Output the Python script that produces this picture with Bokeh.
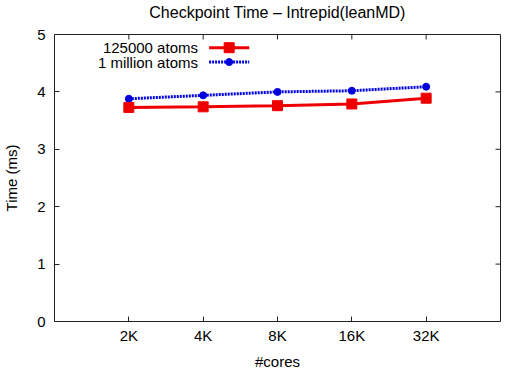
from bokeh.plotting import figure
from bokeh.models import Range1d, FixedTicker, Label, ColumnDataSource, LinearAxis
from bokeh.embed import file_html
from bokeh.resources import INLINE

TITLE = "Checkpoint Time \u2013 Intrepid(leanMD)"
categories = ["2K", "4K", "8K", "16K", "32K"]
atoms_125k = [3.73, 3.74, 3.76, 3.79, 3.89]
atoms_1m = [3.88, 3.94, 4.00, 4.02, 4.09]
y_ticks = [0, 1, 2, 3, 4, 5]

FONT = "Liberation Sans"
FS = "15px"
xpos = list(range(1, len(categories) + 1))

W, H = 510, 374
BL, BR, BT, BB = 54, 10, 34, 53
X0, X1, Y0, Y1 = 0, 6, 0, 5
FW, FH = W - BL - BR, H - BT - BB

p = figure(width=W, height=H, output_backend="svg", toolbar_location=None,
           x_range=Range1d(X0, X1), y_range=Range1d(Y0, Y1),
           min_border_left=BL, min_border_right=BR, min_border_top=BT, min_border_bottom=BB)
p.title = None
p.xgrid.visible = False
p.ygrid.visible = False
p.outline_line_color = "#222222"
p.outline_line_width = 1

xax = p.below[0]
yax = p.left[0]
xax.ticker = FixedTicker(ticks=xpos)
xax.major_label_overrides = {x: c for x, c in zip(xpos, categories)}
yax.ticker = FixedTicker(ticks=y_ticks)
xax.axis_label = "#cores"
yax.axis_label = "Time (ms)"
for ax in (xax, yax):
    ax.axis_line_color = None
    ax.major_tick_in = 5
    ax.major_tick_out = 0
    ax.minor_tick_line_color = None
    ax.major_tick_line_color = "#222222"
    ax.major_label_text_font = FONT
    ax.major_label_text_font_size = FS
    ax.major_label_text_color = "#000000"
    ax.axis_label_text_font = FONT
    ax.axis_label_text_font_size = FS
    ax.axis_label_text_font_style = "normal"
    ax.axis_label_text_color = "#000000"
xax.major_label_standoff = 5
xax.axis_label_standoff = 6
yax.major_label_standoff = 9
yax.axis_label_standoff = 14

# title carried by a tick-less top axis
top = LinearAxis(ticker=FixedTicker(ticks=[]), axis_line_color=None,
                 major_tick_line_color=None, minor_tick_line_color=None,
                 axis_label=TITLE, axis_label_standoff=14,
                 axis_label_text_font=FONT, axis_label_text_font_size="16px",
                 axis_label_text_font_style="normal", axis_label_text_color="#000000")
p.add_layout(top, "above")

# mirrored inward ticks on top and right (gnuplot style)
dy = 5 * (Y1 - Y0) / FH
dx = 5 * (X1 - X0) / FW
p.segment(x0=xpos, y0=[Y1] * len(xpos), x1=xpos, y1=[Y1 - dy] * len(xpos),
          line_color="#222222", line_width=1)
p.segment(x0=[X1] * len(y_ticks), y0=y_ticks, x1=[X1 - dx] * len(y_ticks), y1=y_ticks,
          line_color="#222222", line_width=1)

src = ColumnDataSource(dict(x=xpos, a=atoms_125k, b=atoms_1m))
p.line("x", "b", source=src, line_color="#0000dd", line_width=3, line_dash="2 1")
p.scatter("x", "b", source=src, marker="circle", size=7, fill_color="#0000dd", line_color="#0000dd")
p.line("x", "a", source=src, line_color="#ee0000", line_width=3)
p.scatter("x", "a", source=src, marker="square", size=10, fill_color="#ee0000", line_color="#ee0000")

# legend (gnuplot-style: text then sample)
ly = [4.77, 4.52]
p.line([2.08, 2.62], [ly[0], ly[0]], line_color="#ee0000", line_width=3)
p.scatter([2.35], [ly[0]], marker="square", size=10, fill_color="#ee0000", line_color="#ee0000")
p.line([2.08, 2.62], [ly[1], ly[1]], line_color="#0000dd", line_width=3, line_dash="2 1")
p.scatter([2.35], [ly[1]], marker="circle", size=7, fill_color="#0000dd", line_color="#0000dd")
for txt, yy in zip(["125000 atoms", "1 million atoms"], ly):
    p.add_layout(Label(x=1.93, y=yy, text=txt, text_align="right", text_baseline="middle",
                       text_font=FONT, text_font_size=FS, text_color="#000000"))

open("out.html", "w").write(file_html(p, INLINE))
